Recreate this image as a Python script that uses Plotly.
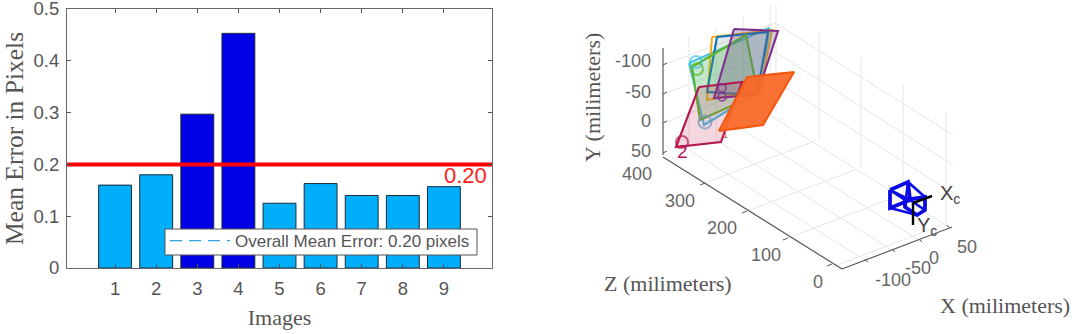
import plotly.graph_objects as go

W, H = 1072, 334

# ---------- left chart data ----------
image_ids = [1, 2, 3, 4, 5, 6, 7, 8, 9]
mean_errors = [0.16, 0.18, 0.297, 0.453, 0.125, 0.163, 0.14, 0.14, 0.157]
bar_colors = ["#00AEFA", "#00AEFA", "#0000E6", "#0000E6", "#00AEFA", "#00AEFA", "#00AEFA", "#00AEFA", "#00AEFA"]
threshold = 0.2
overall_mean = 0.2
legend_label = "Overall Mean Error: 0.20 pixels"

# ---------- right chart data (in picture coordinates) ----------
floor_x_lines = [((868, 262), (689, 150)), ((895, 252), (716, 140)), ((922, 242), (743, 130)), ((950, 228), (771, 116))]
floor_z_lines = [((705, 183), (815, 141)), ((747, 211), (857, 169)), ((788, 238), (898, 196)), ((832, 267), (942, 225))]
wall_vertical = [((689, 147), (689, 37)), ((716, 137), (716, 27)), ((743, 126), (743, 16)), ((770, 116), (770, 5)),
                 ((776, 112), (776, 5)), ((819, 140), (819, 32)), ((861, 167), (861, 58)), ((903, 195), (903, 85)),
                 ((946, 223), (946, 113))]
wall_back = [((663, 65), (775, 23)), ((663, 94), (775, 52)), ((663, 123), (775, 81))]
wall_side = [((775, 23), (953, 135)), ((775, 52), (953, 165)), ((775, 81), (953, 193))]
grid_segments = floor_x_lines + floor_z_lines + wall_vertical + wall_back + wall_side

axis_segments = [((663, 48), (663, 155)), ((663, 157), (842, 269)), ((842, 269), (952, 227))]
tick_segments = [((663, 65), (667, 63)), ((663, 94), (667, 92)), ((663, 123), (667, 121)), ((663, 153), (667, 151)),
                 ((705, 183), (700, 185)), ((747, 211), (742, 213)), ((788, 238), (783, 240)), ((832, 264), (827, 266)),
                 ((868, 262), (865, 259)), ((895, 252), (892, 249)), ((922, 242), (919, 239)), ((950, 228), (947, 225))]

planes = [
    ("#45C4E2", "rgba(69,196,226,0.16)", [689, 769, 762, 704], [63, 28, 90, 125]),
    ("#F2AE1E", "rgba(242,174,30,0.08)", [712, 772, 760, 707], [37, 30, 90, 100]),
    ("#0A72BD", "rgba(10,114,189,0.10)", [717, 768, 757, 707], [37, 32, 95, 92]),
    ("#5CB531", "rgba(92,181,49,0.22)", [692, 746, 758, 700], [67, 35, 94, 120]),
    ("#7E2F8E", "rgba(110,90,130,0.32)", [734, 778, 757, 714], [29, 31, 95, 98]),
    ("#B5174F", "rgba(200,50,90,0.20)", [699, 742, 721, 676], [87, 82, 142, 147]),
    ("#F2590F", "rgba(249,105,40,0.95)", [747, 794, 763, 719], [77, 72, 125, 131]),
]
circle_x = [696, 697, 705, 682, 722, 722]
circle_y = [62, 69, 122, 142, 88, 97]
circle_size = [12, 12, 13, 12, 8, 8]
circle_color = ["#45C4E2", "#5CB531", "#6E9CC4", "#B5174F", "#7E2F8E", "#7E2F8E"]

camera_lens = [[890, 908, 910, 890, 890], [190, 182, 200, 208, 190]]
camera_body = [[905, 925, 925, 917, 905, 905], [200, 197, 210, 215, 207, 200]]
camera_links = [((890, 190), (905, 200)), ((908, 182), (925, 197)), ((910, 200), (925, 210)),
                ((890, 208), (917, 215)), ((890, 190), (910, 200)), ((908, 182), (905, 207))]
camera_axes = [((913, 203), (932, 196)), ((913, 203), (913, 225))]

tick_texts = [("-100", 653, 61, "right"), ("-50", 653, 92, "right"), ("0", 653, 121, "right"), ("50", 653, 151, "right"),
              ("400", 637, 174, "center"), ("300", 680, 201, "center"), ("200", 722, 228, "center"),
              ("100", 766, 255, "center"), ("0", 818, 282, "center"),
              ("-100", 893, 280, "center"), ("-50", 918, 268, "center"), ("0", 934, 258, "center"), ("50", 967, 247, "center")]
title_texts = [("Z (milimeters)", 668, 283, 0), ("X (milimeters)", 1005, 305, 0), ("Y (milimeters)", 592, 98, -90)]
camera_texts = [("X<sub>c</sub>", 938, 194), ("Y<sub>c</sub>", 915, 226)]
plane_texts = [("2", 682, 151, "#B5174F", 19), ("1", 725, 135, "#C8502A", 9)]


def seg_xy(segments):
    xs, ys = [], []
    for a, b in segments:
        xs += [a[0], b[0], None]
        ys += [a[1], b[1], None]
    return xs, ys


fig = go.Figure()

# left chart
fig.add_bar(x=image_ids, y=mean_errors, width=0.8, marker=dict(color=bar_colors, line=dict(color="#1b2b3a", width=1)),
            showlegend=False, xaxis="x", yaxis="y")
fig.add_scatter(x=[-0.17, 10.17], y=[threshold, threshold], mode="lines", line=dict(color="#FF0000", width=4),
                showlegend=False, xaxis="x", yaxis="y")
fig.add_scatter(x=[None], y=[overall_mean], mode="lines", name=legend_label,
                line=dict(color="#2FA8E0", width=1.3, dash="12px,7px"), xaxis="x", yaxis="y")


def add_lines(segments, color, width):
    xs, ys = seg_xy(segments)
    fig.add_scatter(x=xs, y=ys, mode="lines", line=dict(color=color, width=width), showlegend=False,
                    xaxis="x2", yaxis="y2", hoverinfo="skip")


# right chart
add_lines(grid_segments, "#E6E6E6", 1)
add_lines(axis_segments, "#5A5A5A", 1.2)
add_lines(tick_segments, "#5A5A5A", 1)
for line_col, fill_col, px, py in planes:
    fig.add_scatter(x=px + px[:1], y=py + py[:1], mode="lines", fill="toself", fillcolor=fill_col,
                    line=dict(color=line_col, width=2.1), showlegend=False, xaxis="x2", yaxis="y2", hoverinfo="skip")
fig.add_scatter(x=circle_x, y=circle_y, mode="markers",
                marker=dict(size=circle_size, color="rgba(0,0,0,0)", line=dict(color=circle_color, width=2)),
                showlegend=False, xaxis="x2", yaxis="y2", hoverinfo="skip")
add_lines(camera_links, "#0A0AE6", 2.6)
for cx, cy in (camera_lens, camera_body):
    fig.add_scatter(x=cx, y=cy, mode="lines", line=dict(color="#0A0AE6", width=3.8), showlegend=False,
                    xaxis="x2", yaxis="y2", hoverinfo="skip")
add_lines(camera_axes, "#000000", 2.4)

serif = "Liberation Serif"
sans = "Liberation Sans"
ann = [dict(text="0.20", x=9.52, y=0.178, xref="x", yref="y", showarrow=False, font=dict(family=sans, size=22, color="#FF2020"))]
for t, x, y, al in tick_texts:
    ann.append(dict(text=t, x=x, y=y, xref="x2", yref="y2", xanchor=al, yanchor="middle", showarrow=False,
                    font=dict(family=sans, size=18, color="#666666")))
for t, x, y, ang in title_texts:
    ann.append(dict(text=t, x=x, y=y, xref="x2", yref="y2", textangle=ang, showarrow=False,
                    font=dict(family=serif, size=22, color="#555555")))
for t, x, y in camera_texts:
    ann.append(dict(text=t, x=x, y=y, xref="x2", yref="y2", xanchor="left", showarrow=False,
                    font=dict(family=sans, size=20, color="#444444")))
for t, x, y, c, s in plane_texts:
    ann.append(dict(text=t, x=x, y=y, xref="x2", yref="y2", showarrow=False, font=dict(family=sans, size=s, color=c)))

legend_box = dict(type="rect", xref="paper", yref="paper", x0=165 / W, x1=477 / W, y0=1 - 255 / H, y1=1 - 229 / H,
                  fillcolor="white", line=dict(color="#555555", width=1), layer="above")

fig.update_layout(
    width=W, height=H, margin=dict(l=0, r=0, t=0, b=0), paper_bgcolor="white", plot_bgcolor="white",
    xaxis=dict(domain=[67 / W, 492 / W], range=[-0.17, 10.17], tickvals=image_ids, ticks="inside", ticklen=4,
               tickcolor="#555555", linecolor="#666666", linewidth=1, mirror="ticks", showgrid=False, zeroline=False,
               anchor="y", automargin=False, ticklabelstandoff=4, ticklabeloverflow="allow",
               tickfont=dict(family=sans, size=18.5, color="#555555"),
               title=dict(text="Images", font=dict(family=serif, size=22, color="#555555"), standoff=11)),
    yaxis=dict(domain=[1 - 268 / H, 1 - 9 / H], range=[0, 0.5], tickvals=[0, 0.1, 0.2, 0.3, 0.4, 0.5],
               ticktext=["0", "0.1", "0.2", "0.3", "0.4", "0.5"], ticks="inside", ticklen=4, tickcolor="#555555",
               linecolor="#666666", linewidth=1, mirror="ticks", showgrid=False, zeroline=False, anchor="x",
               automargin=False, ticklabelstandoff=3, ticklabeloverflow="allow",
               tickfont=dict(family=sans, size=18.5, color="#555555"),
               title=dict(text="Mean Error in Pixels", font=dict(family=serif, size=25.5, color="#555555"), standoff=12)),
    xaxis2=dict(domain=[570 / W, 1], range=[570, 1072], visible=False, anchor="y2"),
    yaxis2=dict(domain=[0, 1], range=[334, 0], visible=False, anchor="x2"),
    legend=dict(x=165 / W, xanchor="left", y=1 - 223 / H, yanchor="top", bgcolor="rgba(0,0,0,0)", borderwidth=0,
                itemwidth=60, tracegroupgap=0, font=dict(family=sans, size=17, color="#555555")),
    shapes=[legend_box], annotations=ann, showlegend=True,
)
fig.write_html("out.html", config={"displayModeBar": False}, post_script="document.body.style.margin='0';")
